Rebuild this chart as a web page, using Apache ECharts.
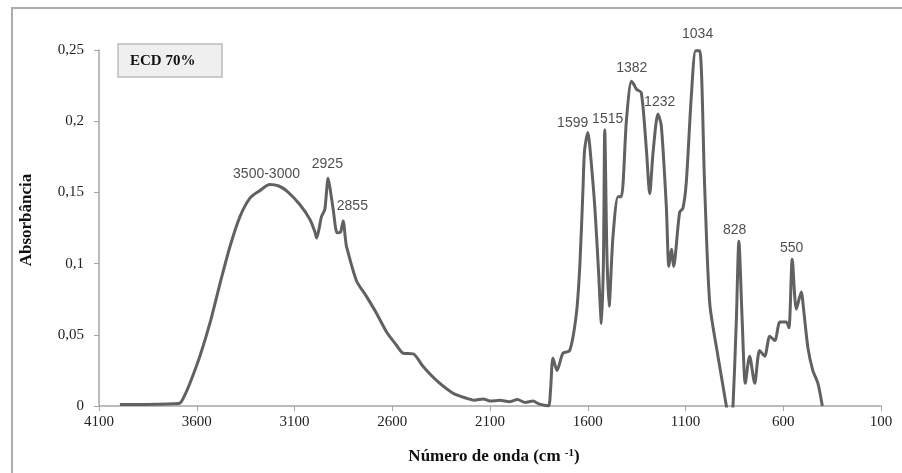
<!DOCTYPE html>
<html>
<head>
<meta charset="utf-8">
<title>ECD 70% - FTIR</title>
<script src="https://cdn.jsdelivr.net/npm/echarts@6/dist/echarts.min.js"></script>
<style>
    html, body { margin: 0; padding: 0; background: #fff; }
    #chart { width: 902px; height: 473px; }
</style>
</head>
<body>
<div id="chart"></div>
<script>
// ======================
// DATA
// ======================

const wavenumbers = [
    3993, 3900, 3800, 3720, 3686, 3660, 3635, 3584, 3533, 3481,
    3430, 3379, 3328, 3280, 3226, 3180, 3140, 3073, 3021, 2995,
    2987, 2975, 2962, 2945, 2928, 2915, 2902, 2882, 2865, 2851,
    2840, 2834, 2783, 2732, 2680, 2629, 2580, 2544, 2493, 2442,
    2374, 2289, 2220, 2180, 2135, 2100, 2050, 2000, 1960, 1920,
    1880, 1850, 1820, 1800, 1790, 1778, 1757, 1727, 1692, 1658,
    1640, 1624, 1616, 1599, 1590, 1564, 1545, 1530, 1520, 1513,
    1502, 1491, 1471, 1445, 1428, 1402, 1377, 1365, 1351, 1326,
    1300, 1283, 1266, 1241, 1224, 1198, 1185, 1172, 1161, 1130,
    1113, 1096, 1070, 1048, 1027, 1002, 976, 934, 891, 880,
    870, 857, 840, 827, 810, 794, 772, 746, 721, 695,
    669, 643, 617, 585, 571, 554, 533, 508, 496, 474,
    449, 423, 400
];

const absorbance = [
    0.001, 0.001, 0.0012, 0.0015, 0.002, 0.008, 0.016, 0.035, 0.058, 0.086,
    0.112, 0.133, 0.146, 0.151, 0.1556, 0.1545, 0.151, 0.1415, 0.131, 0.122,
    0.118, 0.124, 0.133, 0.138, 0.160, 0.150, 0.138, 0.1216, 0.122, 0.130,
    0.118, 0.112, 0.088, 0.077, 0.065, 0.052, 0.043, 0.037, 0.0366, 0.0277,
    0.018, 0.009, 0.0054, 0.004, 0.005, 0.0035, 0.004, 0.003, 0.0045, 0.0025,
    0.0035, 0.0015, 0.0005, 0.0, 0.012, 0.0336, 0.025, 0.037, 0.039, 0.065,
    0.10, 0.154, 0.180, 0.192, 0.183, 0.140, 0.095, 0.058, 0.10, 0.194,
    0.107, 0.070, 0.119, 0.147, 0.147, 0.201, 0.228, 0.226, 0.2225, 0.220,
    0.180, 0.149, 0.178, 0.205, 0.197, 0.140, 0.098, 0.110, 0.098, 0.136,
    0.139, 0.157, 0.218, 0.2495, 0.2495, 0.154, 0.072, 0.035, 0.0, -0.01,
    -0.02, 0.0, 0.06, 0.1157, 0.06, 0.016, 0.035, 0.016, 0.039, 0.035,
    0.049, 0.046, 0.059, 0.059, 0.055, 0.103, 0.068, 0.080, 0.068, 0.041,
    0.025, 0.016, 0.0
];

// peak annotations (text + anchor in data units)
const peakLabels = ['3500-3000', '2925', '2855', '1599', '1515', '1382', '1232', '1034', '828', '550'];
const peakLabelX = [3243, 2932, 2804, 1677, 1498, 1375, 1232, 1038, 849, 557];
const peakLabelY = [0.1627, 0.1697, 0.1404, 0.1986, 0.2014, 0.2373, 0.2134, 0.2613, 0.1232, 0.1106];

const xTicks = { min: 100, max: 4100, step: 500 };
const yTicks = { min: 0, max: 0.25, step: 0.05 };

const sampleName = 'ECD 70%';

// ======================
// OPTION BUILDER
// ======================

function getChartOption() {
    const serif = '"Liberation Serif", "DejaVu Serif", serif';
    const sans = '"Liberation Sans", Arial, sans-serif';

    return {
        backgroundColor: '#ffffff',
        animation: false,
        grid: { left: 99, right: 21, top: 50, bottom: 67 },
        xAxis: {
            type: 'value',
            inverse: true,
            min: xTicks.min,
            max: xTicks.max,
            interval: xTicks.step,
            axisLine: { show: true, lineStyle: { color: '#a6a6a6', width: 1.5 } },
            axisTick: { show: true, length: 5, lineStyle: { color: '#a6a6a6' } },
            axisLabel: {
                color: '#222',
                fontFamily: serif,
                fontSize: 15,
                margin: 9,
                formatter: v => String(v)
            },
            splitLine: { show: false }
        },
        yAxis: {
            type: 'value',
            min: yTicks.min,
            max: yTicks.max,
            interval: yTicks.step,
            axisLine: { show: true, lineStyle: { color: '#a6a6a6', width: 1.5 } },
            axisTick: { show: true, length: 5, lineStyle: { color: '#a6a6a6' } },
            axisLabel: {
                color: '#222',
                fontFamily: serif,
                fontSize: 15,
                margin: 15,
                formatter: v => String(+v.toFixed(2)).replace('.', ',')
            },
            splitLine: { show: false }
        },
        series: [
            {
                type: 'line',
                data: wavenumbers.map((w, i) => [w, absorbance[i]]),
                showSymbol: false,
                smooth: 0.25,
                clip: true,
                lineStyle: { color: '#616161', width: 3 }
            },
            {
                type: 'scatter',
                clip: false,
                symbolSize: 0,
                data: peakLabels.map((t, i) => ({ value: [peakLabelX[i], peakLabelY[i]], name: t })),
                label: {
                    show: true,
                    position: 'inside',
                    formatter: p => p.name,
                    color: '#222',
                    fontFamily: sans,
                    fontSize: 14
                },
                silent: true
            }
        ],
        graphic: [
            {
                type: 'rect',
                shape: { x: 12, y: 8, width: 900, height: 480 },
                style: { fill: 'none', stroke: '#ababab', lineWidth: 2 },
                silent: true
            },
            {
                type: 'rect',
                shape: { x: 118, y: 44, width: 104, height: 33 },
                style: { fill: '#efefef', stroke: '#bdbdbd', lineWidth: 1.5 }
            },
            {
                type: 'text',
                x: 130, y: 61,
                style: {
                    text: sampleName,
                    font: 'bold 15px ' + serif,
                    fill: '#111',
                    textVerticalAlign: 'middle'
                }
            },
            {
                type: 'text',
                x: 27, y: 220,
                rotation: Math.PI / 2,
                style: {
                    text: 'Absorbância',
                    font: 'bold 17px ' + serif,
                    fill: '#111',
                    textAlign: 'center',
                    textVerticalAlign: 'middle'
                }
            },
            {
                type: 'text',
                x: 494, y: 457,
                style: {
                    text: 'Número de onda (cm {sup|-1})',
                    textAlign: 'center',
                    textVerticalAlign: 'middle',
                    font: 'bold 17px ' + serif,
                    fill: '#111',
                    rich: {
                        sup: {
                            font: 'bold 11px ' + serif,
                            fill: '#111',
                            verticalAlign: 'top',
                            padding: [0, 0, 8, 0]
                        }
                    }
                }
            }
        ]
    };
}

// ======================
// INIT CHART
// ======================

const chart = echarts.init(document.getElementById('chart'), null, { renderer: 'canvas' });
chart.setOption(getChartOption());
</script>
</body>
</html>
